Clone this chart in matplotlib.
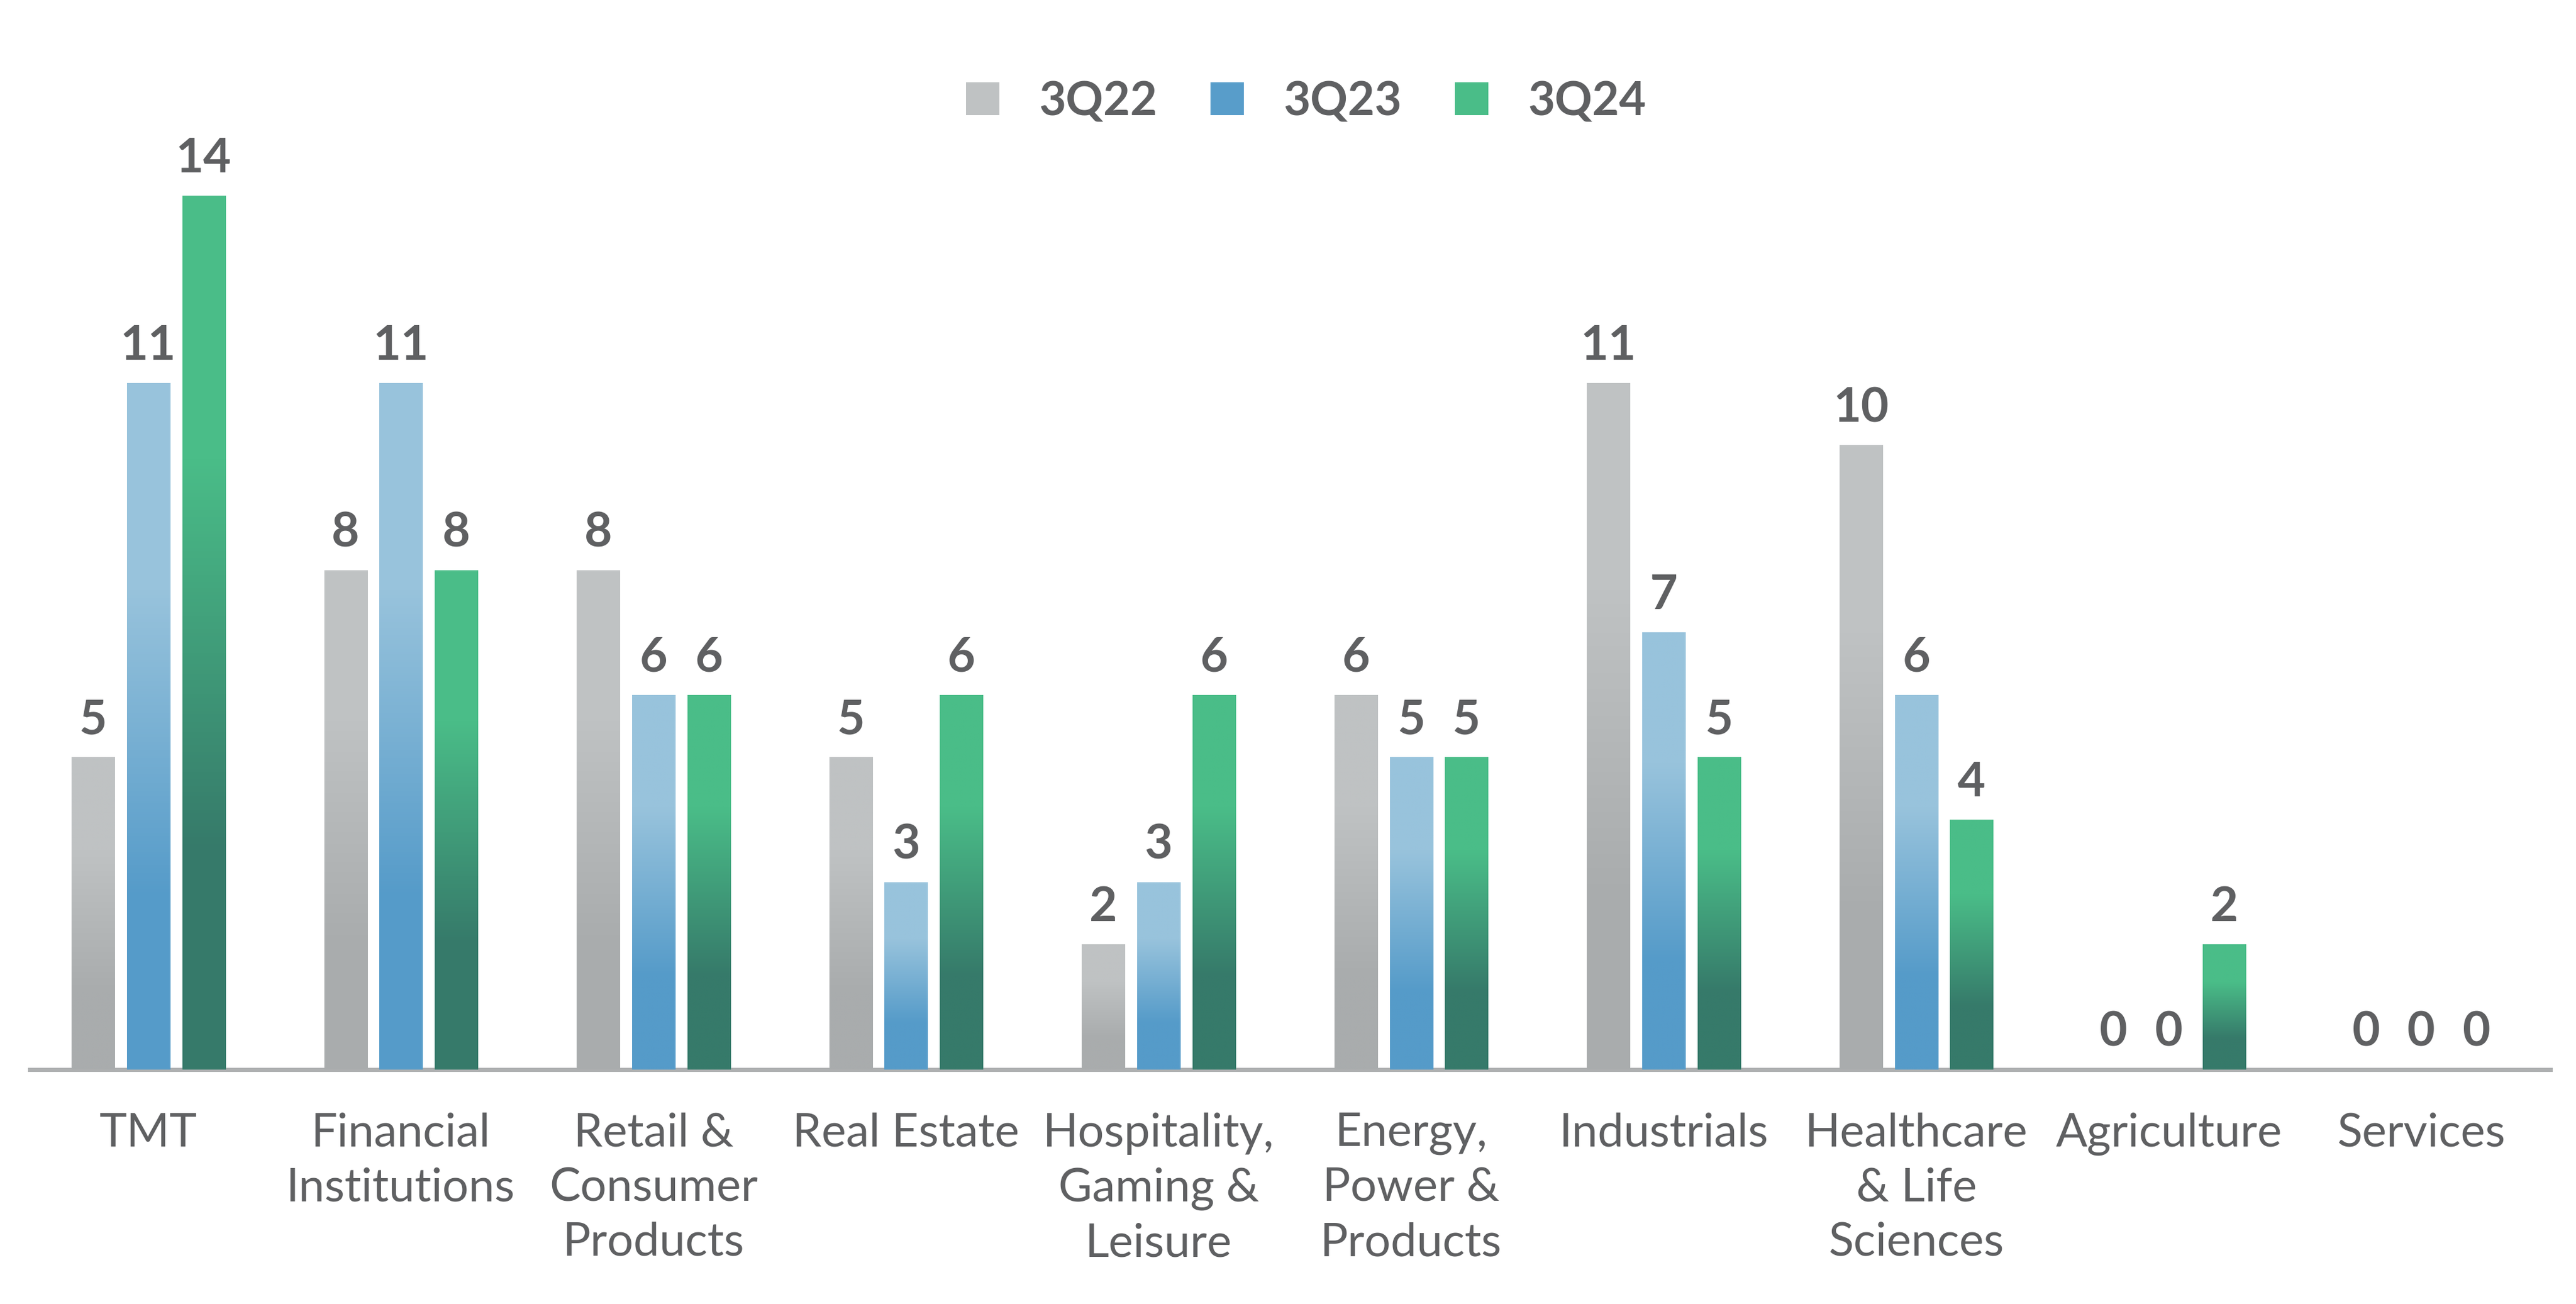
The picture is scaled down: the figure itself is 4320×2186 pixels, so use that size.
import numpy as np
import matplotlib
matplotlib.use("Agg")
import matplotlib.pyplot as plt
from matplotlib.colors import LinearSegmentedColormap
from matplotlib.patches import Patch

categories = ["TMT", "Financial\nInstitutions", "Retail &\nConsumer\nProducts", "Real Estate",
              "Hospitality,\nGaming &\nLeisure", "Energy,\nPower &\nProducts", "Industrials",
              "Healthcare\n& Life\nSciences", "Agriculture", "Services"]
series_names = ["3Q22", "3Q23", "3Q24"]
v3q22 = [5, 8, 8, 5, 2, 6, 11, 10, 0, 0]
v3q23 = [11, 11, 6, 3, 3, 5, 7, 6, 0, 0]
v3q24 = [14, 8, 6, 6, 6, 5, 5, 4, 2, 0]
series = [v3q22, v3q23, v3q24]

light = ["#BFC2C3", "#98C3DC", "#4ABD88"]
dark = ["#A9ACAD", "#559BC9", "#367A6A"]
legend_colors = ["#BFC2C3", "#589DCA", "#4ABD88"]
text_color = "#5F6062"

plt.rcParams['font.family'] = ['Lato', 'DejaVu Sans']

fig = plt.figure(figsize=(21.6, 10.93), dpi=200)
ax = fig.add_axes([0.0115, 0.180, 0.9785, 0.670])

x = np.arange(len(categories))
width = 0.17
offsets = [-0.219, 0.0, 0.219]

for i, vals in enumerate(series):
    cmap = LinearSegmentedColormap.from_list(
        f"g{i}", [(0.0, dark[i]), (0.25, dark[i]), (0.70, light[i]), (1.0, light[i])])
    grad = np.linspace(0, 1, 256).reshape(-1, 1)
    bars = ax.bar(x + offsets[i], vals, width, color="none", edgecolor="none", zorder=2)
    for rect, v in zip(bars, vals):
        x0, y0 = rect.get_x(), rect.get_y()
        w, h = rect.get_width(), rect.get_height()
        if h > 0:
            ax.imshow(grad, extent=[x0, x0 + w, y0, y0 + h], origin="lower",
                      aspect="auto", cmap=cmap, zorder=2, interpolation="bilinear")
        ax.annotate(f"{v}", (x0 + w / 2, y0 + h), xytext=(0, 9), textcoords="offset points",
                    ha="center", va="bottom", fontsize=29, fontweight="bold",
                    color=text_color, annotation_clip=False)

ax.set_xlim(-0.47, 9.51)
ax.set_ylim(0, 14)
ax.set_aspect("auto")
ax.set_yticks([])
ax.set_xticks(x)
ax.set_xticklabels(categories, fontsize=28, color=text_color)
for t in ax.get_xticklabels():
    t.set_linespacing(1.36)
ax.tick_params(axis="x", length=0, pad=26)
for s in ["top", "left", "right"]:
    ax.spines[s].set_visible(False)
ax.spines["bottom"].set_color("#AEB0B1")
ax.spines["bottom"].set_linewidth(2.5)
ax.spines["bottom"].set_zorder(1)

handles = [Patch(facecolor=c, edgecolor="none") for c in legend_colors]
leg = fig.legend(handles, series_names, loc="center", bbox_to_anchor=(0.507, 0.922),
                 ncol=3, frameon=False, handlelength=0.72, handleheight=0.72,
                 handletextpad=0.85, columnspacing=1.15,
                 prop={"size": 28, "weight": "bold"})
for t in leg.get_texts():
    t.set_color(text_color)

fig.savefig("out.png", dpi=200)
